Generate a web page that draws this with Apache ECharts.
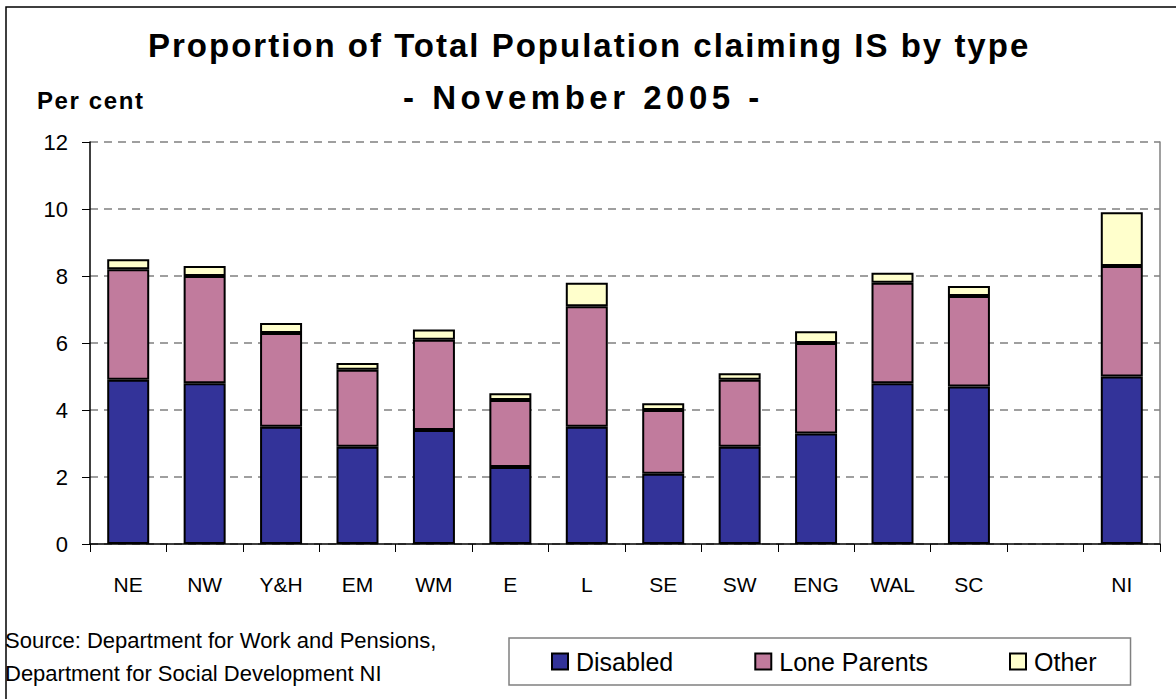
<!DOCTYPE html>
<html>
<head>
<meta charset="utf-8">
<script src="https://cdn.jsdelivr.net/npm/echarts@6/dist/echarts.min.js"></script>
<style>
  html, body { margin: 0; padding: 0; background: #fff; }
  #chart { width: 1176px; height: 699px; }
</style>
</head>
<body>
<div id="chart"></div>
<script>
// 类别（空位用于分隔 NI）
const regions = ['NE', 'NW', 'Y&H', 'EM', 'WM', 'E', 'L', 'SE', 'SW', 'ENG', 'WAL', 'SC', '', 'NI']

// 各类型比例 (%)
const disabled    = [4.9, 4.8, 3.5, 2.9, 3.4, 2.3, 3.5, 2.1, 2.9, 3.3, 4.8, 4.7, '-', 5.0]
const loneParents = [3.3, 3.2, 2.8, 2.3, 2.7, 2.0, 3.6, 1.9, 2.0, 2.7, 3.0, 2.7, '-', 3.3]
const other       = [0.3, 0.3, 0.3, 0.2, 0.3, 0.2, 0.7, 0.2, 0.2, 0.35, 0.3, 0.3, '-', 1.6]

const yTicks = [0, 2, 4, 6, 8, 10, 12]

const titleText = 'Proportion of Total Population claiming IS by type'
const subText = '- November 2005 -'
const unitText = 'Per cent'
const sourceText = 'Source: Department for Work and Pensions,\nDepartment for Social Development NI'

const font = 'Liberation Sans, Arial, sans-serif'

// 原图粗体标题字距较宽，SVG 渲染后补上 letter-spacing
const spacing = {}
spacing[titleText] = 2
spacing[subText] = 4.5
spacing[unitText] = 1.6

function barSeries(name, data, color){
    return {
        name: name,
        type: 'bar',
        stack: 'total',
        barWidth: 42,
        data: data,
        itemStyle: {
            color: color,
            borderColor: '#000',
            borderWidth: 2
        },
        emphasis: { disabled: true }
    }
}

function boldTitle(text, left, top, size){
    return {
        text: text,
        left: left,
        top: top,
        padding: 0,
        textStyle: { fontSize: size, fontWeight: 'bold', color: '#000', fontFamily: font }
    }
}

let option = {
    animation: false,
    textStyle: { fontFamily: font },
    title: [
        boldTitle(titleText, 148, 29, 33),
        boldTitle(subText, 403, 81, 33),
        boldTitle(unitText, 37, 88, 24),
        {
            text: sourceText,
            left: 5,
            top: 624,
            padding: 0,
            textStyle: { fontSize: 22, fontWeight: 'normal', color: '#000', lineHeight: 33, fontFamily: font }
        }
    ],
    legend: {
        data: ['Disabled', 'Lone Parents', 'Other'],
        left: 509,
        top: 638,
        orient: 'horizontal',
        itemWidth: 16,
        itemHeight: 16,
        itemGap: 81,
        padding: [11, 34, 11, 42],
        borderColor: '#808080',
        borderWidth: 1.5,
        borderRadius: 0,
        icon: 'rect',
        itemStyle: { borderColor: '#000', borderWidth: 2 },
        textStyle: { fontSize: 25, color: '#000', fontFamily: font, padding: [0, 0, 0, 3] }
    },
    grid: {
        left: 90,
        right: 16,
        top: 142,
        bottom: 155
    },
    xAxis: {
        type: 'category',
        data: regions,
        axisLine: { lineStyle: { color: '#000', width: 1.5 } },
        axisTick: { show: true, length: 8, lineStyle: { color: '#000', width: 1 } },
        axisLabel: { fontSize: 21, color: '#000', margin: 30, fontFamily: font }
    },
    yAxis: [
        {
            type: 'value',
            min: yTicks[0],
            max: yTicks[yTicks.length - 1],
            interval: 2,
            axisLine: { show: true, lineStyle: { color: '#000', width: 1.5 } },
            axisTick: { show: true, length: 8, lineStyle: { color: '#000', width: 1 } },
            axisLabel: { fontSize: 22, color: '#000', margin: 22, fontFamily: font },
            splitLine: { show: true, lineStyle: { color: '#808080', type: [8, 6], width: 1.5 } }
        },
        {
            type: 'value',
            position: 'right',
            min: 0,
            max: 12,
            interval: 2,
            axisLine: { show: true, lineStyle: { color: '#808080', width: 1.5 } },
            axisTick: { show: false },
            axisLabel: { show: false },
            splitLine: { show: false }
        }
    ],
    series: [
        barSeries('Disabled', disabled, '#333399'),
        barSeries('Lone Parents', loneParents, '#C17B9D'),
        barSeries('Other', other, '#FFFFCC')
    ],
    graphic: [
        {
            type: 'rect',
            shape: { x: 6, y: 7, width: 1200, height: 720 },
            style: { fill: 'none', stroke: '#000', lineWidth: 1.5 },
            silent: true
        }
    ]
}

function applySpacing(){
    document.querySelectorAll('#chart text').forEach(t => {
        let s = spacing[t.textContent]
        if (s) t.style.letterSpacing = s + 'px'
    })
}

let chartDom = echarts.init(document.querySelector('#chart'), null, { renderer: 'svg' })
chartDom.on('finished', applySpacing)
chartDom.setOption(option)
applySpacing()
</script>
</body>
</html>
